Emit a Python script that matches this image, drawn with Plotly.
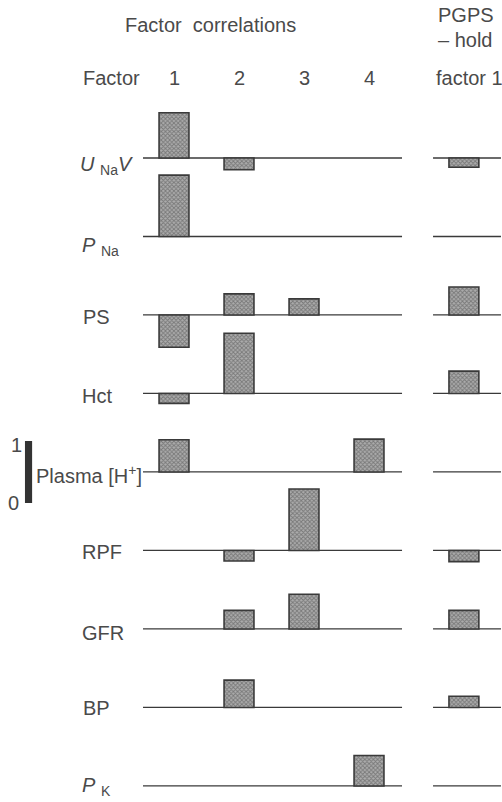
import plotly.graph_objects as go

# ---------------- data ----------------
row_labels = ["<i>U</i> <sub>Na</sub><i>V</i>", "<i>P</i> <sub>Na</sub>", "PS", "Hct",
              "Plasma [H<sup>+</sup>]", "RPF", "GFR", "BP", "<i>P</i> <sub>K</sub>"]
factor_labels = ["1", "2", "3", "4"]
factor1 = [0.73, 0.99, -0.52, -0.16, 0.52, 0.0, 0.0, 0.0, 0.0]
factor2 = [-0.19, 0.0, 0.34, 0.97, 0.0, -0.17, 0.30, 0.44, 0.0]
factor3 = [0.0, 0.0, 0.26, 0.0, 0.0, 0.99, 0.56, 0.0, 0.0]
factor4 = [0.0, 0.0, 0.0, 0.0, 0.53, 0.0, 0.0, 0.0, 0.49]
pgps_hold1 = [-0.15, 0.0, 0.45, 0.36, 0.0, -0.18, 0.30, 0.18, 0.0]

# ---------------- layout constants ----------------
W, H = 502, 802
ROW_GAP = 1.266           # vertical distance between row baselines (data units)
BAR_W = 0.46
PGPS_X = 5.46
XR = [-1.677, 6.046]
YR = [-10.387, 2.548]
TXT = "#4a4a4a"
LINE = "#3a3a3a"
FONT = "Liberation Sans"
FS = 20

n = len(row_labels)
bases = [-i * ROW_GAP for i in range(n)]

def px(x):
    return x / W

def py(y):
    return 1 - y / H

fig = go.Figure()

bar_marker = dict(
    color="#a0a0a0",
    line=dict(color=LINE, width=1.6),
    pattern=dict(shape="x", size=3, solidity=0.5, fgcolor="#444444", bgcolor="#acacac"),
)

series = [factor1, factor2, factor3, factor4]
for k, vals in enumerate(series):
    xs, ys, bs = [], [], []
    for i, v in enumerate(vals):
        if v != 0:
            xs.append(k + 1)
            ys.append(v)
            bs.append(bases[i])
    fig.add_trace(go.Bar(x=xs, y=ys, base=bs, width=BAR_W, marker=bar_marker,
                         showlegend=False, hoverinfo="skip"))

xs, ys, bs = [], [], []
for i, v in enumerate(pgps_hold1):
    if v != 0:
        xs.append(PGPS_X)
        ys.append(v)
        bs.append(bases[i])
fig.add_trace(go.Bar(x=xs, y=ys, base=bs, width=BAR_W, marker=bar_marker,
                     showlegend=False, hoverinfo="skip"))

# scale bar (0 to 1)
SCALE_BASE = -5.565
fig.add_trace(go.Bar(x=[-1.238], y=[1.0], base=[SCALE_BASE], width=0.11,
                     marker=dict(color="#333333", line=dict(width=0)),
                     showlegend=False, hoverinfo="skip"))

# baselines
shapes = []
for i, b in enumerate(bases):
    shapes.append(dict(type="line", xref="x", yref="y", x0=0.523, x1=4.508, y0=b, y1=b,
                       line=dict(color=LINE, width=1.3), layer="below"))
    shapes.append(dict(type="line", xref="x", yref="y", x0=4.985, x1=6.03, y0=b, y1=b,
                       line=dict(color=LINE, width=1.3), layer="below"))

ann = []
def text(t, x, y, anchor="left", size=FS, yanchor="middle"):
    ann.append(dict(text=t, x=px(x), y=py(y), xref="paper", yref="paper",
                    xanchor=anchor, yanchor=yanchor, showarrow=False,
                    font=dict(family=FONT, size=size, color=TXT)))

# headers
text("Factor  correlations", 210, 25, "center")
text("PGPS", 436, 15)
text("\u2013 hold", 436, 40)
text("Factor", 81, 78)
text("factor 1", 434, 78)
for k, lab in enumerate(factor_labels):
    ann.append(dict(text=lab, x=k + 1, y=py(78), xref="x", yref="paper",
                    xanchor="center", yanchor="middle", showarrow=False,
                    font=dict(family=FONT, size=FS, color=TXT)))

# row labels (pixel y of text centre)
label_y = [165, 246, 317, 396, 474, 552, 633, 708]
label_x = [78, 80, 81, 80, 34, 80, 80, 81]
for lab, lx, ly in zip(row_labels[:-1], label_x, label_y):
    text(lab, lx, ly)
# last label sits against the bottom edge
text(row_labels[-1], 80, 801, yanchor="bottom")

# scale labels
text("1", 16, 445, "center")
text("0", 13, 503, "center")

fig.update_layout(
    width=W, height=H,
    margin=dict(l=0, r=0, t=0, b=0),
    paper_bgcolor="white", plot_bgcolor="white",
    barmode="overlay",
    xaxis=dict(range=XR, visible=False, fixedrange=True),
    yaxis=dict(range=YR, visible=False, fixedrange=True),
    shapes=shapes, annotations=ann,
)

fig.write_html("out.html")
